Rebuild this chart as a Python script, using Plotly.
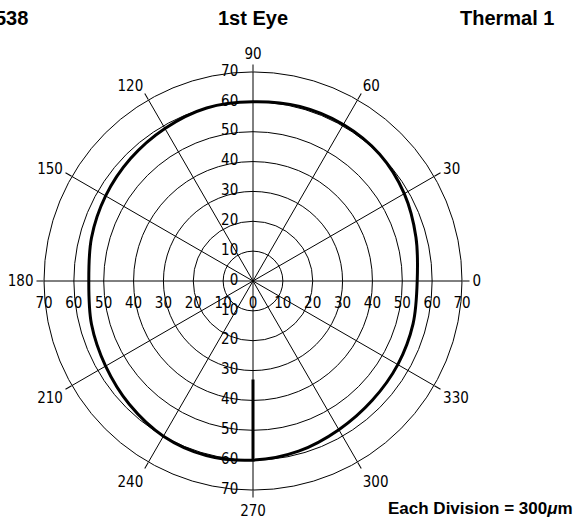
import plotly.graph_objects as go

# Measured contour: radius (divisions) at each meridian angle (degrees)
contour_theta = [0, 15, 30, 45, 60, 75, 90, 105, 120, 135, 150, 165,
                 180, 195, 210, 225, 240, 255, 270, 285, 300, 315, 330, 345, 360]
contour_r = [55, 56.5, 58.5, 60, 60.5, 60.5, 60, 60, 59, 58, 57, 56,
             55, 56, 57, 58.5, 60, 60.5, 60, 59, 57.5, 56.5, 56, 55.5, 55]

# Radial lead-in stroke along the 270 meridian
lead_theta = [270, 270]
lead_r = [33, 60]

# Ring values and angular tick values
ring_vals = [0, 10, 20, 30, 40, 50, 60, 70]
angle_ticks = [0, 30, 60, 90, 120, 150, 180, 210, 240, 270, 300, 330]

title_left = "538"
title_mid = "1st Eye"
title_right = "Thermal 1"
scale_note = "Each Division = 300<i>μ</i>m"

W, H = 584, 524
cx, cy, rad = 253, 281, 209

tick_font = dict(family="DejaVu Sans Condensed, Liberation Sans Narrow, Liberation Sans",
                 size=15, color="black")
bold_font = dict(family="Liberation Sans, Arial", size=20, color="black")

fig = go.Figure()

clear = "rgba(0,0,0,0)"

# Ring labels on the upper vertical axis (including centre 0)
fig.add_trace(go.Scatterpolar(
    r=ring_vals, theta=[90] * len(ring_vals),
    mode="markers+text", text=[str(v) for v in ring_vals],
    textposition="middle left", textfont=tick_font,
    marker=dict(size=22, color=clear), hoverinfo="skip", showlegend=False))

# Ring labels on the lower vertical axis
fig.add_trace(go.Scatterpolar(
    r=ring_vals[1:], theta=[270] * (len(ring_vals) - 1),
    mode="markers+text", text=[str(v) for v in ring_vals[1:]],
    textposition="middle left", textfont=tick_font,
    marker=dict(size=22, color=clear), hoverinfo="skip", showlegend=False))

# Ring labels under the horizontal axis (both sides)
h_r = ring_vals + ring_vals[1:]
h_theta = [0] * len(ring_vals) + [180] * (len(ring_vals) - 1)
fig.add_trace(go.Scatterpolar(
    r=h_r, theta=h_theta,
    mode="markers+text", text=[str(v) for v in h_r],
    textposition="bottom center", textfont=tick_font,
    marker=dict(size=24, color=clear), hoverinfo="skip", showlegend=False))

# Contour
fig.add_trace(go.Scatterpolar(
    r=contour_r, theta=contour_theta, mode="lines",
    line=dict(color="black", width=3, shape="spline"),
    hoverinfo="skip", showlegend=False))

fig.add_trace(go.Scatterpolar(
    r=lead_r, theta=lead_theta, mode="lines",
    line=dict(color="black", width=3),
    hoverinfo="skip", showlegend=False))

fig.update_layout(
    width=W, height=H,
    margin=dict(l=0, r=0, t=0, b=0),
    paper_bgcolor="white",
    plot_bgcolor="white",
    polar=dict(
        domain=dict(x=[(cx - rad) / W, (cx + rad) / W],
                    y=[(H - cy - rad) / H, (H - cy + rad) / H]),
        bgcolor="white",
        radialaxis=dict(range=[0, 70], tickvals=ring_vals[1:], showticklabels=False,
                        ticks="", showline=False, gridcolor="black", gridwidth=1),
        angularaxis=dict(rotation=0, direction="counterclockwise",
                         tickvals=angle_ticks, ticktext=[str(a) for a in angle_ticks],
                         ticks="outside", ticklen=7, tickcolor="black", tickwidth=1,
                         showline=True, linecolor="black", linewidth=1,
                         gridcolor="black", gridwidth=1, tickfont=tick_font),
    ),
    annotations=[
        dict(text=f"<b>{title_left}</b>", x=30 / W, y=1 - 18 / H, xref="paper", yref="paper",
             xanchor="right", yanchor="middle", showarrow=False, font=bold_font),
        dict(text=f"<b>{title_mid}</b>", x=cx / W, y=1 - 18 / H, xref="paper", yref="paper",
             xanchor="center", yanchor="middle", showarrow=False, font=bold_font),
        dict(text=f"<b>{title_right}</b>", x=507 / W, y=1 - 18 / H, xref="paper", yref="paper",
             xanchor="center", yanchor="middle", showarrow=False, font=bold_font),
        dict(text=f"<b>{scale_note}</b>", x=480 / W, y=1 - 508 / H, xref="paper", yref="paper",
             xanchor="center", yanchor="middle", showarrow=False,
             font=dict(family="Liberation Sans, Arial", size=17, color="black")),
    ],
)

fig.write_html("out.html")
